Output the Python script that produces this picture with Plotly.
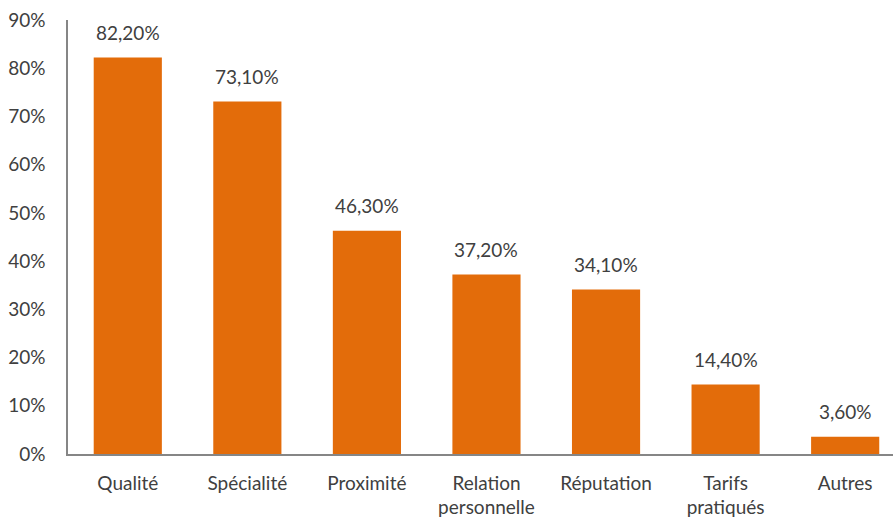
import plotly.graph_objects as go

categories = ["Qualité", "Spécialité", "Proximité", "Relation<br>personnelle",
              "Réputation", "Tarifs<br>pratiqués", "Autres"]
values = [82.2, 73.1, 46.3, 37.2, 34.1, 14.4, 3.6]
y_ticks = [0, 10, 20, 30, 40, 50, 60, 70, 80, 90]
y_tick_labels = [f"{t}%" for t in y_ticks]

labels = [f"{v:.2f}".replace(".", ",") + "%" for v in values]

font_family = "Lato, 'Open Sans', sans-serif"
text_color = "#404040"
axis_color = "#868686"
fs = 19

xs = list(range(len(categories)))

fig = go.Figure(go.Bar(
    x=xs,
    y=values,
    width=0.57,
    marker=dict(color="#E36C0A", line=dict(width=0)),
    hoverinfo="skip",
))

for x, v, t in zip(xs, values, labels):
    fig.add_annotation(
        x=x, y=v, text=t, showarrow=False,
        xanchor="center", yanchor="bottom", yshift=12,
        font=dict(size=fs, color=text_color, family=font_family),
    )

fig.update_layout(
    width=893, height=518,
    margin=dict(l=68, r=0, t=20, b=62),
    paper_bgcolor="white", plot_bgcolor="white",
    showlegend=False,
    font=dict(family=font_family, size=fs, color=text_color),
)
fig.update_xaxes(
    tickmode="array",
    tickvals=xs,
    ticktext=categories,
    range=[-0.5, 6.4],
    showline=True, linecolor=axis_color, linewidth=1.5,
    showgrid=False, ticks="", zeroline=False,
    ticklabelstandoff=11,
    tickfont=dict(size=fs, color=text_color),
)
fig.update_yaxes(
    range=[0, 90],
    tickmode="array",
    tickvals=y_ticks,
    ticktext=y_tick_labels,
    showline=True, linecolor=axis_color, linewidth=1.5,
    showgrid=False, ticks="", zeroline=False,
    ticklabelstandoff=17,
    tickfont=dict(size=fs, color=text_color),
)

fig.write_html("out.html")
